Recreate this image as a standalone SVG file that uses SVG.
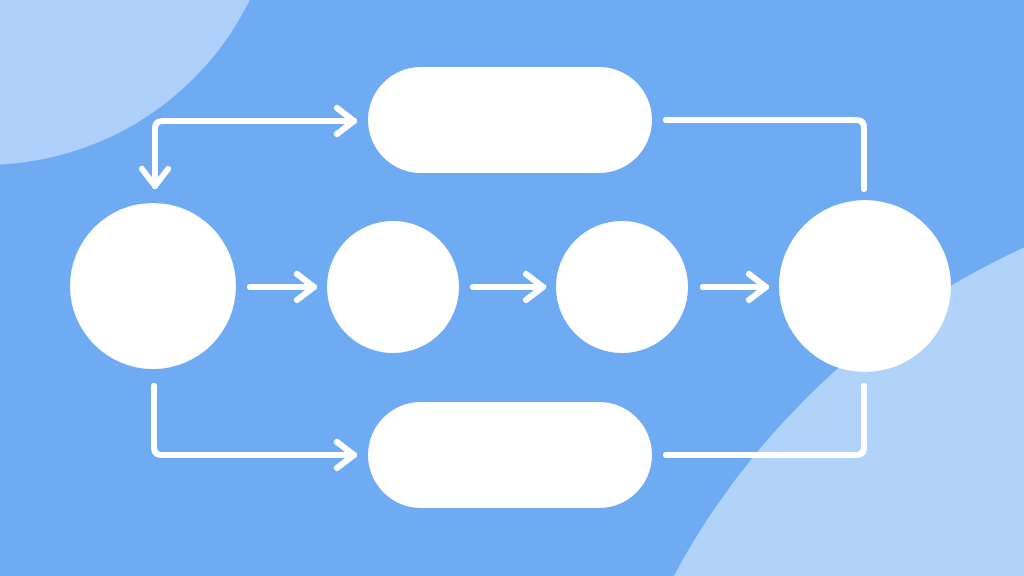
<svg xmlns="http://www.w3.org/2000/svg" width="1024" height="576" viewBox="0 0 1024 576">
  <defs>
    <style>
      .node { fill: #ffffff; }
      .conn { fill: none; stroke: #ffffff; stroke-width: 6; stroke-linecap: round; stroke-linejoin: round; }
    </style>
    <marker id="arrow" markerUnits="userSpaceOnUse" markerWidth="40" markerHeight="40" viewBox="-25 -20 40 40" refX="0" refY="0" orient="auto-start-reverse">
      <path d="M-17,-13 L0,0 L-17,13" fill="none" stroke="#ffffff" stroke-width="6" stroke-linecap="round" stroke-linejoin="round"/>
    </marker>
  </defs>
  <rect x="0" y="0" width="1024" height="576" fill="#6eabf3"/>
  <circle cx="-15" cy="-130" r="295" fill="#aed0fa"/>
  <circle cx="1335" cy="930" r="750" fill="#b1d3fa"/>

  <g id="connectors">
    <path class="conn" d="M155,186 L155,129 Q155,121 163,121 L354,121" marker-start="url(#arrow)" marker-end="url(#arrow)"/>
    <path class="conn" d="M666,120 L856,120 Q864,120 864,128 L864,189"/>
    <path class="conn" d="M250,287 L314,287" marker-end="url(#arrow)"/>
    <path class="conn" d="M473,287 L543,287" marker-end="url(#arrow)"/>
    <path class="conn" d="M703,287 L766,287" marker-end="url(#arrow)"/>
    <path class="conn" d="M154,386 L154,447 Q154,455 162,455 L354,455" marker-end="url(#arrow)"/>
    <path class="conn" d="M666,455 L856,455 Q864,455 864,447 L864,386"/>
  </g>

  <g id="node-left"><circle class="node" cx="153" cy="286" r="83"/></g>
  <g id="node-mid1"><circle class="node" cx="393" cy="287" r="66"/></g>
  <g id="node-mid2"><circle class="node" cx="622" cy="287" r="66"/></g>
  <g id="node-right"><circle class="node" cx="865" cy="286" r="86"/></g>
  <g id="node-top"><rect class="node" x="368" y="67" width="284" height="106" rx="53"/></g>
  <g id="node-bottom"><rect class="node" x="368" y="402" width="284" height="106" rx="53"/></g>
</svg>
